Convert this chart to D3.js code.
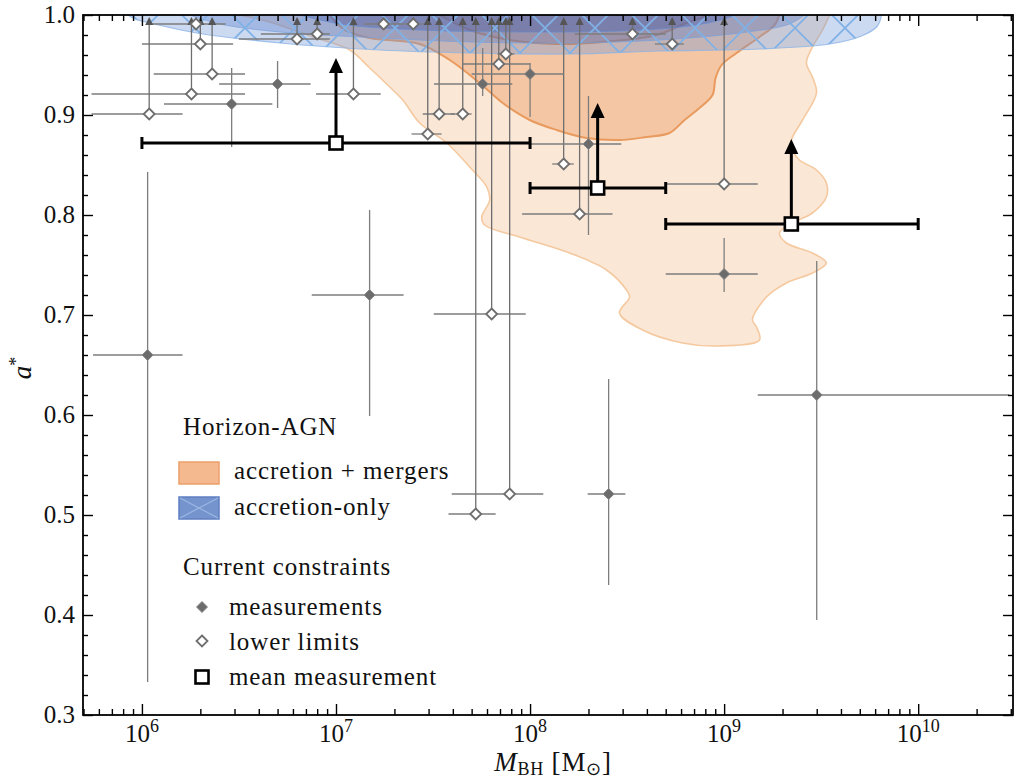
<!DOCTYPE html>
<html>
<head>
<meta charset="utf-8">
<script src="https://cdn.jsdelivr.net/npm/d3@7"></script>
<style>
  body { margin: 0; background: #fff; }
  text { font-family: "Liberation Serif", "Times New Roman", serif; fill: #111; }
</style>
</head>
<body>
<div id="chart"></div>
<script>
// ---- data ----
// measurements: [mass, spin, massLo, massHi, spinLo, spinHi]
const measurements = [
  [1.07e6, 0.660, 5.6e5, 1.62e6, 0.333, 0.843],
  [2.9e6, 0.911, 1.3e6, 4.7e6, 0.868, 0.947],
  [5.0e6, 0.931, 2.5e6, 7.4e6, 0.907, 0.954],
  [1.49e7, 0.720, 7.5e6, 2.23e7, 0.599, 0.805],
  [5.7e7, 0.931, 3.2e7, 8.1e7, 0.919, 0.967],
  [1.0e8, 0.941, 5.0e7, 1.49e8, 0.898, 0.952],
  [2.0e8, 0.871, 1.0e8, 2.95e8, 0.780, 0.919],
  [2.54e8, 0.521, 1.98e8, 3.1e8, 0.430, 0.636],
  [1.0e9, 0.741, 5.0e8, 1.49e9, 0.723, 0.777],
  [3.0e9, 0.620, 1.49e9, 2.95e10, 0.395, 0.754]
];

// lower limits: [mass, spin, massLo, massHi]
const lowerLimits = [
  [1.09e6, 0.901, 5.5e5, 1.62e6],
  [1.8e6, 0.921, 5.5e5, 3.4e6],
  [2.3e6, 0.941, 1.15e6, 3.4e6],
  [2.0e6, 0.971, 1.0e6, 2.95e6],
  [1.9e6, 0.991, 1.12e6, 2.7e6],
  [6.3e6, 0.976, 3.16e6, 9.3e6],
  [8.0e6, 0.981, 4.1e6, 9.3e6],
  [1.23e7, 0.921, 7.9e6, 1.7e7],
  [1.76e7, 0.991, 1.4e7, 2.2e7],
  [2.5e7, 0.991, 2.1e7, 3.0e7],
  [2.97e7, 0.881, 2.45e7, 3.5e7],
  [3.4e7, 0.901, 2.8e7, 4.1e7],
  [4.5e7, 0.901, 3.9e7, 5.0e7],
  [6.9e7, 0.951, 4.5e7, 1.0e8],
  [7.5e7, 0.961, 6.8e7, 8.3e7],
  [3.37e8, 0.981, 1.7e8, 5.0e8],
  [5.4e8, 0.971, 4.4e8, 6.2e8],
  [1.49e8, 0.851, 1.3e8, 1.68e8],
  [1.8e8, 0.801, 9.1e7, 2.66e8],
  [1.0e9, 0.831, 5.05e8, 1.49e9],
  [6.34e7, 0.701, 3.19e7, 9.5e7],
  [7.85e7, 0.521, 3.95e7, 1.17e8],
  [5.25e7, 0.501, 3.8e7, 6.65e7]
];
const limitTop = 0.998;

// mean measurements: [mass, spin, massLo, massHi]
const means = [
  [1.0e7, 0.872, 1.0e6, 1.0e8],
  [2.23e8, 0.827, 1.0e8, 5.0e8],
  [2.22e9, 0.791, 5.0e8, 1.0e10]
];
const meanArrow = 0.085;

// Horizon-AGN contours, points as [log10 mass, spin]
const mergersOuter = [
  [6.505, 1.0], [6.659, 0.993], [6.881, 0.978], [7.071, 0.965], [7.174, 0.947],
  [7.277, 0.928], [7.344, 0.915], [7.431, 0.892], [7.571, 0.872], [7.689, 0.848],
  [7.777, 0.828], [7.792, 0.815], [7.751, 0.798], [7.766, 0.790], [7.946, 0.778],
  [8.204, 0.762], [8.394, 0.745], [8.497, 0.725], [8.513, 0.718], [8.461, 0.702],
  [8.580, 0.685], [8.786, 0.672], [8.961, 0.669], [9.182, 0.675], [9.167, 0.688],
  [9.146, 0.695], [9.218, 0.718], [9.321, 0.732], [9.455, 0.742], [9.527, 0.752],
  [9.455, 0.762], [9.321, 0.772], [9.285, 0.782], [9.352, 0.792], [9.455, 0.802],
  [9.527, 0.818], [9.527, 0.832], [9.476, 0.845], [9.388, 0.855], [9.352, 0.865],
  [9.347, 0.875], [9.404, 0.895], [9.476, 0.922], [9.455, 0.938], [9.424, 0.952],
  [9.455, 0.968], [9.507, 0.985], [9.543, 1.0]
];
const mergersMid = [
  [6.968, 1.0], [7.045, 0.985], [7.174, 0.977], [7.431, 0.971], [7.586, 0.955],
  [7.740, 0.932], [7.859, 0.912], [7.998, 0.895], [8.137, 0.885], [8.291, 0.877],
  [8.461, 0.875], [8.600, 0.878], [8.719, 0.882], [8.796, 0.895], [8.873, 0.907],
  [8.940, 0.920], [8.956, 0.937], [8.987, 0.950], [9.064, 0.962], [9.182, 0.978],
  [9.260, 0.990], [9.285, 1.0]
];
const mergersInner = [
  [7.534, 1.0], [7.689, 0.985], [7.895, 0.975], [8.137, 0.971], [8.374, 0.973],
  [8.652, 0.980], [8.806, 0.992], [8.925, 1.0]
];
const accretionOuter = [
  [5.928, 1.0], [5.964, 0.996], [6.041, 0.992], [6.283, 0.982], [6.711, 0.972],
  [7.226, 0.965], [7.689, 0.962], [8.204, 0.961], [8.667, 0.964], [9.182, 0.966],
  [9.543, 0.971], [9.708, 0.979], [9.790, 0.989], [9.811, 1.0]
];
const accretionMid = [
  [6.247, 1.0], [6.402, 0.991], [6.711, 0.983], [7.226, 0.977], [7.689, 0.973],
  [8.204, 0.972], [8.667, 0.975], [9.079, 0.982], [9.337, 0.991], [9.414, 1.0]
];
const accretionInner = [
  [6.814, 1.0], [7.020, 0.991], [7.431, 0.985], [7.946, 0.983], [8.461, 0.984],
  [8.822, 0.989], [9.002, 0.996], [9.054, 1.0]
];

// tick values
const xExponents = [6, 7, 8, 9, 10];
const yTicks = [0.3, 0.4, 0.5, 0.6, 0.7, 0.8, 0.9, 1.0];

// ---- chart ----
const width = 1015, height = 782;
const svg = d3.select("#chart").append("svg")
  .attr("width", width).attr("height", height)
  .style("background", "#fff");

const x = d3.scaleLog().domain([4.97e5, 3.08e10]).range([83, 1013]);
const y = d3.scaleLinear().domain([0.3, 1.0]).range([715, 15]);

const defs = svg.append("defs");
defs.append("clipPath").attr("id", "plotclip")
  .append("rect").attr("x", 83).attr("y", 15).attr("width", 930).attr("height", 700);

const hatch = defs.append("pattern").attr("id", "hatch")
  .attr("patternUnits", "userSpaceOnUse").attr("width", 50).attr("height", 50)
  .attr("x", 20).attr("y", 3);
hatch.append("path").attr("d", "M0,0L50,50M50,0L0,50")
  .attr("stroke", "#7fb1e6").attr("stroke-width", 1.7).attr("fill", "none");

const plot = svg.append("g").attr("clip-path", "url(#plotclip)");

const lineGen = d3.line()
  .x(d => x(10 ** d[0]))
  .y(d => y(d[1]))
  .curve(d3.curveCatmullRom.alpha(0.5));

function regionPath(pts) {
  const first = pts[0], last = pts[pts.length - 1];
  return lineGen(pts) + `L${x(10 ** last[0])},0L${x(10 ** first[0])},0Z`;
}

// accretion + mergers (orange)
plot.append("path").attr("d", regionPath(mergersOuter))
  .attr("fill", "#fbe7d5").attr("stroke", "#f5c9a0").attr("stroke-width", 1.6);
plot.append("path").attr("d", regionPath(mergersMid))
  .attr("fill", "#f4c6a3").attr("stroke", "#e99a5e").attr("stroke-width", 2);
plot.append("path").attr("d", regionPath(mergersInner))
  .attr("fill", "#eeab7e").attr("stroke", "#e0823f").attr("stroke-width", 2);

// accretion-only (blue, hatched)
plot.append("path").attr("d", regionPath(accretionOuter))
  .attr("fill", "rgba(110,150,215,0.36)").attr("stroke", "rgba(140,180,230,0.8)").attr("stroke-width", 1.2);
plot.append("path").attr("d", regionPath(accretionMid))
  .attr("fill", "rgba(80,115,195,0.32)").attr("stroke", "rgba(120,160,220,0.7)").attr("stroke-width", 1);
plot.append("path").attr("d", regionPath(accretionInner))
  .attr("fill", "rgba(60,85,170,0.34)").attr("stroke", "rgba(100,140,210,0.7)").attr("stroke-width", 1);
plot.append("path").attr("d", regionPath(accretionOuter))
  .attr("fill", "url(#hatch)").attr("stroke", "none");

const diamond = r => `M0,${-r}L${r},0L0,${r}L${-r},0Z`;
const errColor = "#7d7d7d";

// lower limits: error bars + arrows
const ll = plot.append("g");
ll.selectAll("line.h").data(lowerLimits).join("line")
  .attr("x1", d => x(d[2])).attr("x2", d => x(d[3]))
  .attr("y1", d => y(d[1])).attr("y2", d => y(d[1]))
  .attr("stroke", errColor).attr("stroke-width", 1.3);
ll.selectAll("line.v").data(lowerLimits).join("line")
  .attr("x1", d => x(d[0])).attr("x2", d => x(d[0]))
  .attr("y1", d => y(d[1])).attr("y2", y(limitTop) + 7)
  .attr("stroke", "#6e6e6e").attr("stroke-width", 1.3);
ll.selectAll("path.arrow").data(lowerLimits).join("path")
  .attr("d", d => {
    const cx = x(d[0]), ty = y(limitTop);
    return `M${cx},${ty}L${cx + 4},${ty + 8}L${cx - 4},${ty + 8}Z`;
  })
  .attr("fill", "#555");

// measurements: error bars
const ms = plot.append("g");
ms.selectAll("line.h").data(measurements).join("line")
  .attr("x1", d => x(d[2])).attr("x2", d => x(d[3]))
  .attr("y1", d => y(d[1])).attr("y2", d => y(d[1]))
  .attr("stroke", errColor).attr("stroke-width", 1.3);
ms.selectAll("line.v").data(measurements).join("line")
  .attr("x1", d => x(d[0])).attr("x2", d => x(d[0]))
  .attr("y1", d => y(d[4])).attr("y2", d => y(d[5]))
  .attr("stroke", errColor).attr("stroke-width", 1.3);

// markers
ll.selectAll("path.mk").data(lowerLimits).join("path")
  .attr("d", diamond(5.5))
  .attr("transform", d => `translate(${x(d[0])},${y(d[1])})`)
  .attr("fill", "#fff").attr("stroke", "#6e6e6e").attr("stroke-width", 1.8);
ms.selectAll("path.mk").data(measurements).join("path")
  .attr("d", diamond(5.5))
  .attr("transform", d => `translate(${x(d[0])},${y(d[1])})`)
  .attr("fill", "#6c6c6c").attr("stroke", "#888").attr("stroke-width", 1);

// mean measurements
const mg = plot.append("g");
mg.selectAll("line.h").data(means).join("line")
  .attr("x1", d => x(d[2])).attr("x2", d => x(d[3]))
  .attr("y1", d => y(d[1])).attr("y2", d => y(d[1]))
  .attr("stroke", "#000").attr("stroke-width", 3);
mg.selectAll("line.capL").data(means).join("line")
  .attr("x1", d => x(d[2])).attr("x2", d => x(d[2]))
  .attr("y1", d => y(d[1]) - 6).attr("y2", d => y(d[1]) + 6)
  .attr("stroke", "#000").attr("stroke-width", 3);
mg.selectAll("line.capR").data(means).join("line")
  .attr("x1", d => x(d[3])).attr("x2", d => x(d[3]))
  .attr("y1", d => y(d[1]) - 6).attr("y2", d => y(d[1]) + 6)
  .attr("stroke", "#000").attr("stroke-width", 3);
mg.selectAll("line.up").data(means).join("line")
  .attr("x1", d => x(d[0])).attr("x2", d => x(d[0]))
  .attr("y1", d => y(d[1])).attr("y2", d => y(d[1] + meanArrow) + 14)
  .attr("stroke", "#000").attr("stroke-width", 3);
mg.selectAll("path.arrow").data(means).join("path")
  .attr("d", d => {
    const cx = x(d[0]), ty = y(d[1] + meanArrow);
    return `M${cx},${ty}L${cx + 7},${ty + 15}L${cx - 7},${ty + 15}Z`;
  })
  .attr("fill", "#000");
mg.selectAll("rect").data(means).join("rect")
  .attr("x", d => x(d[0]) - 6.5).attr("y", d => y(d[1]) - 6.5)
  .attr("width", 13).attr("height", 13)
  .attr("fill", "#fff").attr("stroke", "#000").attr("stroke-width", 2.6);

// ---- axes ----
const xMajor = xExponents.map(e => 10 ** e);
const xMinor = [];
for (let e = 5; e <= 10; e++) {
  for (let k = 2; k <= 9; k++) {
    const v = k * 10 ** e;
    if (v > x.domain()[0] && v < x.domain()[1]) xMinor.push(v);
  }
}
const yMinor = d3.range(30, 101, 2).map(v => v / 100).filter(v => !yTicks.some(t => Math.abs(t - v) < 1e-6));

function styleAxis(g) {
  g.select(".domain").remove();
  g.selectAll(".tick line").attr("stroke", "#000").attr("stroke-width", 1.4);
  g.selectAll(".tick text").remove();
}

svg.append("g").attr("transform", "translate(0,715)")
  .call(d3.axisBottom(x).tickValues(xMajor).tickSize(-11)).call(styleAxis);
svg.append("g").attr("transform", "translate(0,715)")
  .call(d3.axisBottom(x).tickValues(xMinor).tickSize(-6)).call(styleAxis);
svg.append("g").attr("transform", "translate(0,15)")
  .call(d3.axisTop(x).tickValues(xMajor).tickSize(-11)).call(styleAxis);
svg.append("g").attr("transform", "translate(0,15)")
  .call(d3.axisTop(x).tickValues(xMinor).tickSize(-6)).call(styleAxis);
svg.append("g").attr("transform", "translate(83,0)")
  .call(d3.axisLeft(y).tickValues(yTicks).tickSize(-10)).call(styleAxis);
svg.append("g").attr("transform", "translate(83,0)")
  .call(d3.axisLeft(y).tickValues(yMinor).tickSize(-5)).call(styleAxis);
svg.append("g").attr("transform", "translate(1013,0)")
  .call(d3.axisRight(y).tickValues(yTicks).tickSize(-10)).call(styleAxis);
svg.append("g").attr("transform", "translate(1013,0)")
  .call(d3.axisRight(y).tickValues(yMinor).tickSize(-5)).call(styleAxis);

// frame
svg.append("rect").attr("x", 83).attr("y", 15).attr("width", 930).attr("height", 700)
  .attr("fill", "none").attr("stroke", "#000").attr("stroke-width", 1.8);

// tick labels
const xl = svg.append("g").selectAll("text").data(xExponents).join("text")
  .attr("x", e => x(10 ** e)).attr("y", 742)
  .attr("text-anchor", "middle").style("font-size", "25px");
xl.append("tspan").text("10");
xl.append("tspan").attr("dy", -10).style("font-size", "18px").text(e => e);

svg.append("g").selectAll("text").data(yTicks).join("text")
  .attr("x", 75).attr("y", d => y(d) + 8)
  .attr("text-anchor", "end").style("font-size", "25px")
  .text(d => d.toFixed(1));

// axis titles
const xt = svg.append("text").attr("x", 553).attr("y", 771)
  .attr("text-anchor", "middle").style("font-size", "27px").style("letter-spacing", "0.8px");
xt.append("tspan").style("font-style", "italic").text("M");
xt.append("tspan").attr("dy", 4).style("font-size", "18px").text("BH");
xt.append("tspan").attr("dy", -4).text(" [M");
xt.append("tspan").attr("dy", 4).style("font-size", "18px").text("⊙");
xt.append("tspan").attr("dy", -4).text("]");

const yt = svg.append("text").attr("transform", "translate(31,368) rotate(-90)")
  .attr("text-anchor", "middle").style("font-size", "27px");
yt.append("tspan").style("font-style", "italic").text("a");
yt.append("tspan").attr("dy", -9).style("font-size", "18px").text("*");

// ---- legend ----
const lg = svg.append("g").style("font-size", "25px").style("letter-spacing", "0.9px");
lg.append("text").attr("x", 183).attr("y", 435).text("Horizon-AGN");

lg.append("rect").attr("x", 179).attr("y", 462).attr("width", 40).attr("height", 22)
  .attr("fill", "#f4b98f").attr("stroke", "#eba06b").attr("stroke-width", 1.5);
lg.append("text").attr("x", 234).attr("y", 479).text("accretion + mergers");

lg.append("rect").attr("x", 179).attr("y", 497).attr("width", 40).attr("height", 22)
  .attr("fill", "#7593cc").attr("stroke", "#5f7fc2").attr("stroke-width", 1.5);
lg.append("path").attr("d", "M180,498L218,518M218,498L180,518")
  .attr("stroke", "#9ab6e4").attr("stroke-width", 1.3);
lg.append("text").attr("x", 234).attr("y", 515).text("accretion-only");

lg.append("text").attr("x", 183).attr("y", 575).text("Current constraints");

lg.append("path").attr("d", diamond(5.5)).attr("transform", "translate(202,607)")
  .attr("fill", "#6c6c6c").attr("stroke", "#888").attr("stroke-width", 1);
lg.append("text").attr("x", 229).attr("y", 615).text("measurements");

lg.append("path").attr("d", diamond(5.5)).attr("transform", "translate(202,641)")
  .attr("fill", "#fff").attr("stroke", "#6e6e6e").attr("stroke-width", 1.8);
lg.append("text").attr("x", 229).attr("y", 650).text("lower limits");

lg.append("rect").attr("x", 195.5).attr("y", 670.5).attr("width", 13).attr("height", 13)
  .attr("fill", "#fff").attr("stroke", "#000").attr("stroke-width", 2.6);
lg.append("text").attr("x", 229).attr("y", 685).text("mean measurement");
</script>
</body>
</html>
